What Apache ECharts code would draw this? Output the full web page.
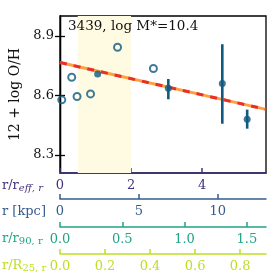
<!DOCTYPE html>
<html><head><meta charset="utf-8">
<script src="https://cdn.jsdelivr.net/npm/echarts@6/dist/echarts.min.js"></script>
<style>html,body{margin:0;padding:0;background:#fff}#c{width:277px;height:277px}</style>
</head><body><div id="c"></div>
<script>
const openX = [0.05, 0.33, 0.48, 0.86, 1.62, 2.63];
const openY = [8.578, 8.692, 8.595, 8.608, 8.843, 8.736];
const filledX = [1.06, 3.05, 4.57, 5.27];
const filledY = [8.708, 8.636, 8.66, 8.48];
const filledLo = [8.708, 8.581, 8.458, 8.433];
const filledHi = [8.708, 8.683, 8.858, 8.529];
const fitX = [0, 5.8];
const fitY = [8.766, 8.53];
const bandX = [0.5, 2.0];
const yTicks = [8.3, 8.6, 8.9];
const reffTicks = [0, 2, 4];
const kpcTicks = [0, 5, 10];
const r90Ticks = [0, 0.5, 1.0, 1.5];
const r25Ticks = [0, 0.2, 0.4, 0.6, 0.8];
const titleText = '3439, log M*=10.4';

const F = 'DejaVu Serif';
const cPurple = '#46337e', cBlue = '#365c8d', cGreen = '#21a585', cYell = '#bddf26';
const ptColor = '#0f5a80';

function secAxis(min, max, ticks, color, offset, fmt) {
  return {
    type: 'value', position: 'bottom', offset: offset, min: min, max: max,
    axisLine: {show: true, onZero: false, lineStyle: {color: color, width: 1.5}},
    axisTick: {show: true, inside: true, length: 5, lineStyle: {color: color, width: 1.5}, customValues: ticks},
    axisLabel: {color: color, fontFamily: F, fontSize: 13, margin: 6, customValues: ticks, formatter: fmt},
    splitLine: {show: false}
  };
}

const chart = echarts.init(document.getElementById('c'), null, {renderer: 'canvas'});
chart.setOption({
  animation: false,
  grid: {left: 58, right: 11, top: 16, bottom: 104, show: true, borderColor: '#000', borderWidth: 1.3, backgroundColor: 'transparent'},
  xAxis: [
    secAxis(0, 5.8, reffTicks, cPurple, 0, v => String(v)),
    secAxis(0, 13.06, kpcTicks, cBlue, 26, v => String(v)),
    secAxis(0, 1.654, r90Ticks, cGreen, 54, v => v.toFixed(1)),
    secAxis(0, 0.915, r25Ticks, cYell, 81, v => v.toFixed(1))
  ],
  yAxis: [
    {type: 'value', min: 8.21, max: 9.0, position: 'left',
     name: '12 + log O/H', nameLocation: 'middle', nameGap: 38, nameRotate: 90,
     nameTextStyle: {fontFamily: F, fontSize: 14, color: '#111'},
     axisLine: {show: true, lineStyle: {color: '#000', width: 1.3}},
     axisTick: {show: true, inside: true, length: 5, lineStyle: {color: '#000', width: 1.3}, customValues: yTicks},
     axisLabel: {color: '#111', fontFamily: F, fontSize: 13, margin: 6, customValues: yTicks, formatter: v => v.toFixed(1)},
     splitLine: {show: false}},
    {type: 'value', min: 8.21, max: 9.0, position: 'right',
     axisLine: {show: true, lineStyle: {color: '#000', width: 1.3}},
     axisTick: {show: true, inside: true, length: 5, lineStyle: {color: '#000', width: 1.3}, customValues: yTicks},
     axisLabel: {show: false}, splitLine: {show: false}}
  ],
  series: [
    {type: 'line', xAxisIndex: 0, yAxisIndex: 0, data: [], silent: true, z: 1,
     markArea: {silent: true, itemStyle: {color: '#fffbe3'}, data: [[{xAxis: bandX[0]}, {xAxis: bandX[1]}]]}},
    {type: 'line', xAxisIndex: 1, data: []},
    {type: 'line', xAxisIndex: 2, data: []},
    {type: 'line', xAxisIndex: 3, data: []},
    {type: 'line', xAxisIndex: 0, yAxisIndex: 0, data: fitX.map((x, i) => [x, fitY[i]]), symbol: 'none',
     lineStyle: {color: '#ffa040', width: 3}, z: 3},
    {type: 'line', xAxisIndex: 0, yAxisIndex: 0, data: fitX.map((x, i) => [x, fitY[i]]), symbol: 'none',
     lineStyle: {color: '#e8302a', width: 3, type: [7, 7]}, z: 4},
    {type: 'custom', xAxisIndex: 0, yAxisIndex: 0, z: 5,
     data: filledX.map((x, i) => [x, filledLo[i], filledHi[i]]),
     renderItem: function (params, api) {
       const a = api.coord([api.value(0), api.value(1)]);
       const b = api.coord([api.value(0), api.value(2)]);
       return {type: 'line', shape: {x1: a[0], y1: a[1], x2: b[0], y2: b[1]}, style: {stroke: ptColor, lineWidth: 2.6}};
     }},
    {type: 'scatter', xAxisIndex: 0, yAxisIndex: 0, z: 6, symbol: 'circle', symbolSize: 7,
     data: filledX.map((x, i) => [x, filledY[i]]), itemStyle: {color: ptColor}},
    {type: 'scatter', xAxisIndex: 0, yAxisIndex: 0, z: 6, symbol: 'circle', symbolSize: 7,
     data: openX.map((x, i) => [x, openY[i]]), itemStyle: {color: 'rgba(255,255,255,0)', borderColor: ptColor, borderWidth: 2}}
  ],
  graphic: [
    {type: 'text', z: 100, left: 68, top: 19, style: {text: titleText, font: '13.5px "DejaVu Serif"', fill: '#111'}},
    {type: 'text', z: 100, left: 2, top: 179, style: {text: '{a|r/r}{s|eff, r}', rich: {a: {font: '13px "DejaVu Serif"', fill: cPurple}, s: {font: 'italic 10px "DejaVu Serif"', fill: cPurple, padding: [6, 0, 0, 0]}}}},
    {type: 'text', z: 100, left: 2, top: 205, style: {text: 'r [kpc]', font: '13px "DejaVu Serif"', fill: cBlue}},
    {type: 'text', z: 100, left: 2, top: 232, style: {text: '{a|r/r}{s|90, r}', rich: {a: {font: '13px "DejaVu Serif"', fill: cGreen}, s: {font: '10px "DejaVu Serif"', fill: cGreen, padding: [6, 0, 0, 0]}}}},
    {type: 'text', z: 100, left: 2, top: 259, style: {text: '{a|r/R}{s|25, r}', rich: {a: {font: '13px "DejaVu Serif"', fill: cYell}, s: {font: '10px "DejaVu Serif"', fill: cYell, padding: [6, 0, 0, 0]}}}}
  ]
});
</script></body></html>
